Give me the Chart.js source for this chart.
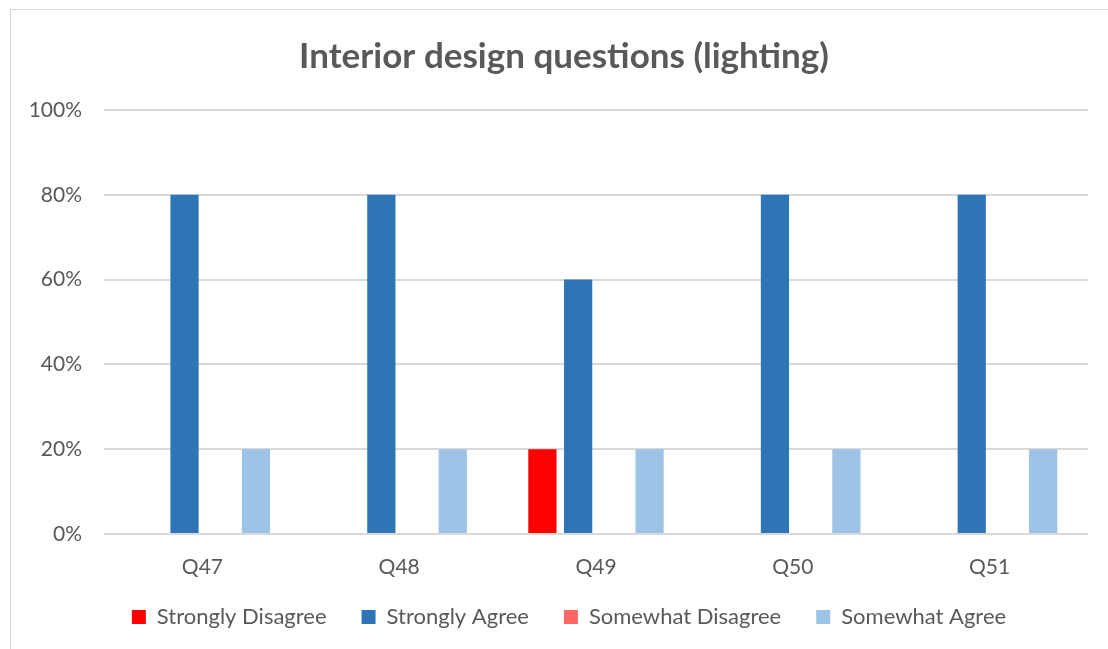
<!DOCTYPE html>
<html>
<head>
<meta charset="utf-8">
<script src="https://cdn.jsdelivr.net/npm/chart.js@4"></script>
<style>
  html, body { margin: 0; padding: 0; background: #fff; overflow: hidden; }
  #wrap { position: relative; width: 1108px; height: 649px; }
  #frame { position: absolute; left: 10px; top: 9px; width: 1200px; height: 800px;
           border: 1.5px solid #d9d9d9; box-sizing: border-box; }
  canvas { position: absolute; left: 0; top: 0; }
</style>
</head>
<body>
<div id="wrap">
  <div id="frame"></div>
  <canvas id="chart" width="1108" height="649"></canvas>
</div>
<script>
// ---- Data ----
const questions = ["Q47", "Q48", "Q49", "Q50", "Q51"];
const stronglyDisagree = [0, 0, 20, 0, 0];
const stronglyAgree = [80, 80, 60, 80, 80];
const somewhatDisagree = [0, 0, 0, 0, 0];
const somewhatAgree = [20, 20, 20, 20, 20];
const yTicks = [0, 20, 40, 60, 80, 100];

const TEXT = "#595959";
const GRID = "#d9d9d9";

// let the category labels run past the axis box, nudge title and legend right
const tweaks = {
  id: "tweaks",
  afterLayout(chart) {
    chart.scales.x.bottom = chart.height;
    chart.titleBlock.left += 10;
    chart.titleBlock.right += 10;
    chart.legend.left += 15;
    chart.legend.right += 15;
  }
};

const ctx = document.getElementById("chart").getContext("2d");

new Chart(ctx, {
  type: "bar",
  data: {
    labels: questions,
    datasets: [
      { label: "Strongly Disagree", data: stronglyDisagree, backgroundColor: "#ff0000" },
      { label: "Strongly Agree", data: stronglyAgree, backgroundColor: "#2e75b6" },
      { label: "Somewhat Disagree", data: somewhatDisagree, backgroundColor: "#ff6666" },
      { label: "Somewhat Agree", data: somewhatAgree, backgroundColor: "#9dc3e6" }
    ]
  },
  plugins: [tweaks],
  options: {
    responsive: false,
    animation: false,
    barPercentage: 0.79,
    categoryPercentage: 0.726,
    layout: { padding: { left: 20, right: 20, top: 10, bottom: 11 } },
    plugins: {
      title: {
        display: true,
        text: "Interior design questions (lighting)",
        color: TEXT,
        font: { family: "Lato", size: 35, weight: "bold" },
        padding: { top: 26, bottom: 32 }
      },
      legend: {
        position: "bottom",
        labels: {
          color: TEXT,
          font: { family: "Lato", size: 22 },
          boxWidth: 14,
          boxHeight: 14,
          padding: 35
        }
      },
      tooltip: { enabled: false }
    },
    scales: {
      x: {
        grid: { display: false, drawTicks: false },
        border: { display: false },
        ticks: { color: TEXT, font: { family: "Lato", size: 21 }, padding: 21 },
        afterFit: s => { s.height = 37; }
      },
      y: {
        min: 0,
        max: 100,
        afterBuildTicks: s => { s.ticks = yTicks.map(v => ({ value: v })); },
        grid: { color: GRID, lineWidth: 2, drawTicks: false },
        border: { display: false },
        ticks: {
          color: TEXT,
          font: { family: "Lato", size: 21 },
          padding: 22,
          callback: v => v + "%"
        },
        afterFit: s => { s.width = 84; }
      }
    }
  }
});
</script>
</body>
</html>
